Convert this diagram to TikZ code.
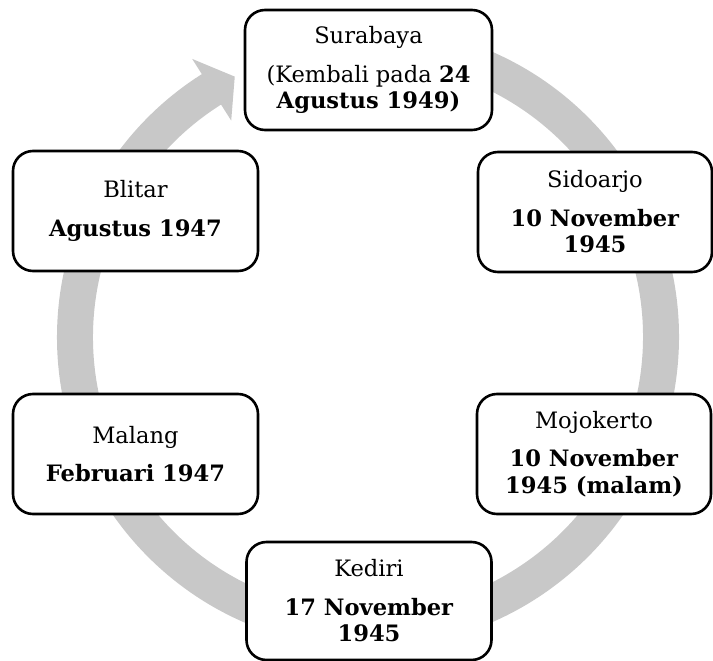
\documentclass[tikz,border=0pt]{standalone}
\usepackage{fontspec}
\setmainfont{DejaVu Serif}
\definecolor{ringgray}{RGB}{200,200,200}
\tikzset{
  stagebox/.style={draw=black, line width=2.6pt, rounded corners=20pt, fill=white,
    align=center, inner sep=0pt, font=\fontsize{22.6}{26.5}\selectfont},
}
\begin{document}
\begin{tikzpicture}[x=1pt,y=1pt]
\useasboundingbox (0,0) rectangle (713,-661);
% circular arrow
\begin{scope}[shift={(368,-337)}]
\fill[ringgray] (85:311) arc[start angle=85, end angle=-237.7, radius=311]
  -- (-237.7:329) -- (-242.9:292.5) -- (-237.7:256) -- (-237.7:275)
  arc[start angle=-237.7, end angle=85, radius=275] -- cycle;
\end{scope}
% boxes
\node[stagebox, minimum width=247pt, minimum height=120pt] (sur) at (368.5,-70)
  {Surabaya\\[12pt](Kembali pada \textbf{24}\\\textbf{Agustus 1949)}};
\node[stagebox, minimum width=234pt, minimum height=120pt] (sid) at (595,-212)
  {Sidoarjo\\[12pt]\textbf{10 November}\\\textbf{1945}};
\node[stagebox, minimum width=234pt, minimum height=120pt] (moj) at (594,-454)
  {Mojokerto\\[12pt]\textbf{10 November}\\\textbf{1945 (malam)}};
\node[stagebox, minimum width=245pt, minimum height=118pt] (ked) at (369,-601)
  {Kediri\\[12pt]\textbf{17 November}\\\textbf{1945}};
\node[stagebox, minimum width=245pt, minimum height=120pt] (mal) at (135.5,-454)
  {Malang\\[12pt]\textbf{Februari 1947}};
\node[stagebox, minimum width=245pt, minimum height=120pt] (bli) at (135.5,-211)
  {Blitar\\[12pt]\textbf{Agustus 1947}};
\end{tikzpicture}
\end{document}
